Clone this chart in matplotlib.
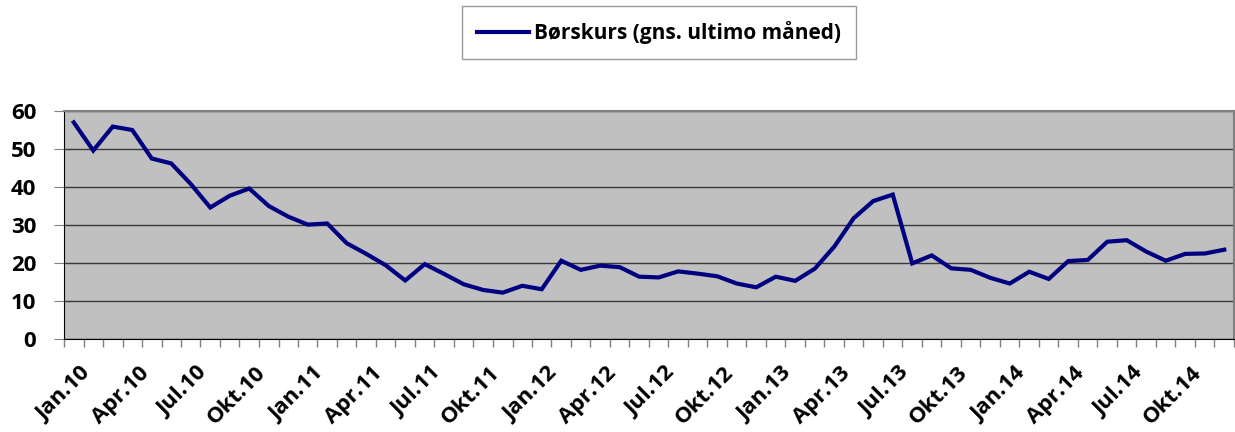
import numpy as np
import matplotlib
matplotlib.use("Agg")
import matplotlib.pyplot as plt
from matplotlib.ticker import FixedLocator, MultipleLocator

# --- Data: monthly share price, Jan.10 - Dec.14 ---
maaneder = ["Jan", "Feb", "Mar", "Apr", "Maj", "Jun", "Jul", "Aug", "Sep", "Okt", "Nov", "Dec"]
aar = ["10", "11", "12", "13", "14"]
perioder = [f"{m}.{a}" for a in aar for m in maaneder]

boerskurs = [
    57.0, 49.6, 55.9, 55.0, 47.5, 46.2, 40.8, 34.6, 37.7, 39.6, 35.0, 32.2,
    30.1, 30.4, 25.2, 22.4, 19.4, 15.4, 19.7, 17.1, 14.4, 12.9, 12.2, 14.0,
    13.1, 20.6, 18.2, 19.3, 18.9, 16.4, 16.2, 17.8, 17.2, 16.5, 14.6, 13.6,
    16.4, 15.3, 18.5, 24.3, 31.8, 36.3, 38.0, 19.9, 22.0, 18.6, 18.2, 16.1,
    14.6, 17.7, 15.8, 20.5, 20.8, 25.6, 26.0, 23.0, 20.6, 22.4, 22.5, 23.5,
]
serie_navn = "Børskurs (gns. ultimo måned)"

plt.rcParams['font.family'] = ['Open Sans', 'DejaVu Sans']
plt.rcParams['font.weight'] = 'bold'

fig = plt.figure(figsize=(12.35, 4.32), dpi=100)
ax = fig.add_axes([64 / 1235, 93 / 432, 1170 / 1235, 228 / 432])

x = np.arange(len(boerskurs))
ax.plot(x, boerskurs, color='#000080', linewidth=3.0, label=serie_navn,
        solid_joinstyle='miter', zorder=3)

ax.set_facecolor('#C0C0C0')
ax.set_xlim(-0.5, len(boerskurs) - 0.5)
ax.set_ylim(0, 60)
ax.yaxis.set_major_locator(MultipleLocator(10))
ax.grid(axis='y', color='#3a3a3a', linewidth=1.0, zorder=1)
ax.set_axisbelow(True)

# category ticks between months, labels every third month
ax.xaxis.set_major_locator(FixedLocator(np.arange(-0.5, len(boerskurs), 1)))
ax.set_xticklabels([])
ax.xaxis.set_minor_locator(FixedLocator(x[::3] + 0.3))
ax.set_xticklabels([perioder[i] for i in x[::3]], minor=True, rotation=45,
                   ha='right', rotation_mode='anchor', fontsize=16, fontweight='bold')
ax.tick_params(axis='x', which='major', length=6, direction='out', color='#808080', width=1)
ax.tick_params(axis='x', which='minor', length=0, pad=17)
ax.tick_params(axis='y', length=7, direction='out', color='#808080', labelsize=16, pad=13)
for lab in ax.get_yticklabels():
    lab.set_fontweight('bold')

for side in ['top', 'right']:
    ax.spines[side].set_color('#808080')
    ax.spines[side].set_linewidth(1.5)
ax.spines['left'].set_color('#000000')
ax.spines['bottom'].set_color('#000000')

leg = fig.legend(loc='center', bbox_to_anchor=(659 / 1235, 1 - 32.5 / 432),
                 frameon=True, fancybox=False, handlelength=2.5,
                 borderpad=0.7, handletextpad=0.25, prop={'weight': 'bold', 'size': 15})
leg.get_frame().set_edgecolor('#808080')
leg.get_frame().set_linewidth(1.0)

fig.savefig('out.png', dpi=100, facecolor='white')
